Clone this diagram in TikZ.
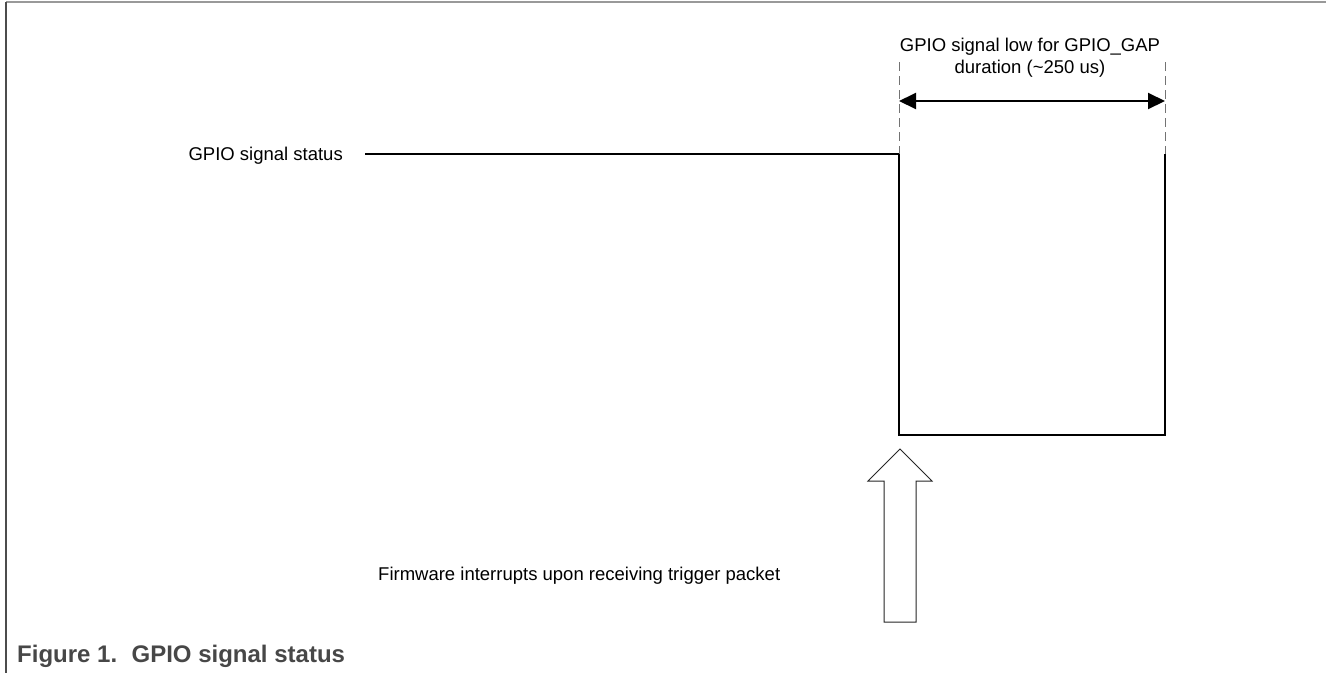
\documentclass[tikz,border=0pt]{standalone}
\usepackage{fontspec}
\setmainfont{Liberation Sans}
\usetikzlibrary{arrows.meta}
\begin{document}
\begin{tikzpicture}[x=1pt,y=-1pt,
  sig/.style={line width=2.8pt, line join=miter},
  guide/.style={draw=black!55, line width=1pt, dash pattern=on 9pt off 5pt},
  dim/.style={line width=2pt, {Triangle[length=17pt,width=16pt]}-{Triangle[length=17pt,width=16pt]}},
  lbl/.style={font=\fontsize{18.5}{22}\selectfont, inner sep=0pt},
  caption/.style={font=\fontsize{24}{28}\selectfont\bfseries, text=black!72, inner sep=0pt},
  blockarrow/.style={draw=black!85, line width=1pt, fill=white, line join=miter}]
\useasboundingbox (0,0) rectangle (1326,673);
% frame
\coordinate (ftl) at (6,1.5);
\coordinate (ftr) at (1326,1.5);
\coordinate (fbl) at (6,673);
\draw[draw=black!40, line width=2pt] (ftl) -- (ftr);
\draw[draw=black!70, line width=1.5pt] (ftl) -- (fbl);
% signal
\coordinate (h0) at (365,154);
\coordinate (h1) at (899,154);
\coordinate (l1) at (899,435);
\coordinate (l2) at (1165,435);
\coordinate (h2) at (1165,154);
\draw[sig] (h0) -- (h1) -- (l1) -- (l2) -- (h2);
% guides
\coordinate (g1) at (899,62);
\coordinate (g2) at (1165,62);
\draw[guide] (g1) -- (h1);
\draw[guide] (g2) -- (h2);
% dimension arrow
\coordinate (a1) at (899,101);
\coordinate (a2) at (1165,101);
\draw[dim] (a1) -- (a2);
% labels
\node[lbl, anchor=base] (gap1) at (1030,51) {GPIO signal low for GPIO\_GAP};
\node[lbl, anchor=base] (gap2) at (1030,73) {duration (\textasciitilde250 us)};
\node[lbl, anchor=base east] (status) at (343,160) {GPIO signal status};
\node[lbl, anchor=base west] (fw) at (378,580) {Firmware interrupts upon receiving trigger packet};
% block arrow
\draw[blockarrow] (900,449) -- (932,481) -- (916,481) -- (916,622) -- (884,622) -- (884,481) -- (868,481) -- cycle;
% caption
\node[caption, anchor=base west] (cap) at (17,662) {Figure 1.\hspace{0.6em}GPIO signal status};
\end{tikzpicture}
\end{document}
